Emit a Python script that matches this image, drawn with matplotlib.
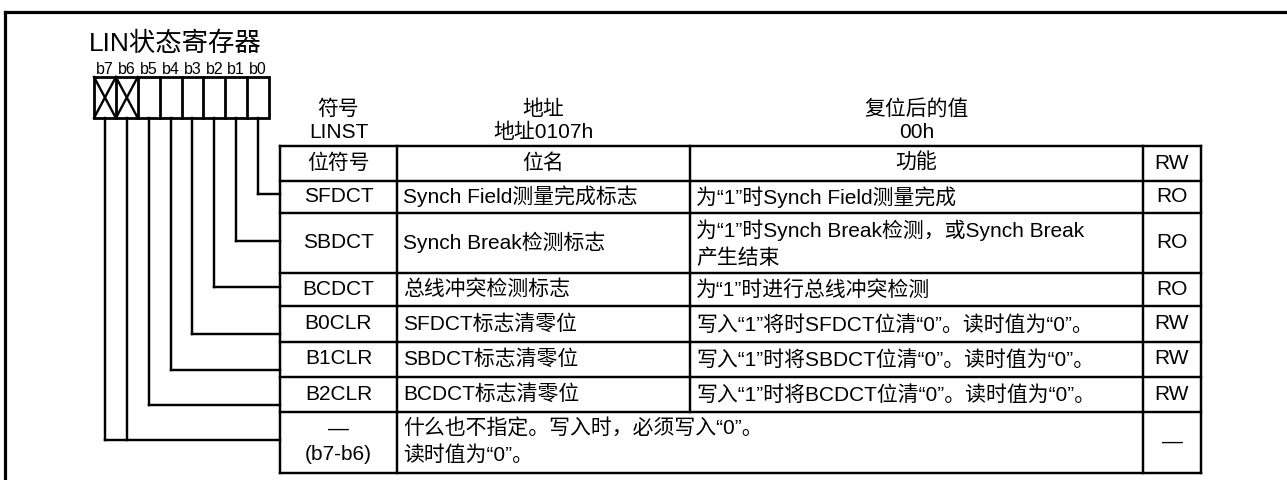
import matplotlib
matplotlib.use("Agg")
import matplotlib.pyplot as plt

plt.rcParams['font.family'] = ['Liberation Sans', 'Noto Sans CJK SC', 'DejaVu Sans']

# ---- content ----
title = "LIN状态寄存器"
bit_labels = ["b7", "b6", "b5", "b4", "b3", "b2", "b1", "b0"]
reserved_bits = ["b7", "b6"]
info_headers = ["符号", "地址", "复位后的值"]
info_values = ["LINST", "地址0107h", "00h"]
col_headers = ["位符号", "位名", "功能", "RW"]
bit_symbols = ["SFDCT", "SBDCT", "BCDCT", "B0CLR", "B1CLR", "B2CLR", "—\n(b7-b6)"]
bit_names = ["Synch Field测量完成标志", "Synch Break检测标志", "总线冲突检测标志",
             "SFDCT标志清零位", "SBDCT标志清零位", "BCDCT标志清零位",
             "什么也不指定。写入时，必须写入“0”。\n读时值为“0”。"]
functions = ["为“1”时Synch Field测量完成",
             "为“1”时Synch Break检测，或Synch Break\n产生结束",
             "为“1”时进行总线冲突检测",
             "写入“1”将时SFDCT位清“0”。读时值为“0”。",
             "写入“1”时将SBDCT位清“0”。读时值为“0”。",
             "写入“1”时将BCDCT位清“0”。读时值为“0”。",
             None]
rw = ["RO", "RO", "RO", "RW", "RW", "RW", "—"]
# which bits feed each row (b0 -> row 0, ...)
row_bits = [["b0"], ["b1"], ["b2"], ["b3"], ["b4"], ["b5"], ["b7", "b6"]]

# ---- layout (pixels) ----
W, H = 1287, 480
reg_x0, reg_x1, reg_y0, reg_y1 = 94, 269, 77, 118
col_x = [280, 397, 690, 1143, 1201]
row_y = [146, 180.5, 212.5, 272.5, 306, 341.5, 376.5, 411.5, 472.5]
conn_y = [194, 241, 287, 334, 370, 405, 440]
FS = 15
LW = 1.75

fig = plt.figure(figsize=(W / 100, H / 100), dpi=100)
ax = fig.add_axes([0, 0, 1, 1])
ax.set_xlim(0, W)
ax.set_ylim(H, 0)
ax.axis("off")

def line(xs, ys, lw=LW):
    ax.plot(xs, ys, color="black", lw=lw, solid_capstyle="projecting", solid_joinstyle="miter")

# outer frame (top and left)
line([5, W], [12, 12], lw=2.3)
line([5, 5], [12, H], lw=2.3)

# title and bit labels
ax.text(89, 44, title, fontsize=19, ha="left", va="center")
cw = (reg_x1 - reg_x0) / len(bit_labels)
centers = {b: reg_x0 + cw * (i + 0.5) for i, b in enumerate(bit_labels)}
for b in bit_labels:
    ax.text(centers[b], 70, b, fontsize=11.5, ha="center", va="center")

# register box
ax.add_patch(plt.Rectangle((reg_x0, reg_y0), reg_x1 - reg_x0, reg_y1 - reg_y0,
                           fill=False, lw=2.0, ec="black"))
for i in range(1, len(bit_labels)):
    x = reg_x0 + cw * i
    line([x, x], [reg_y0, reg_y1], lw=2.0)
for b in reserved_bits:
    xl = centers[b] - cw / 2
    xr = centers[b] + cw / 2
    line([xl, xr], [reg_y0, reg_y1], lw=1.7)
    line([xl, xr], [reg_y1, reg_y0], lw=1.7)

# connectors
for bits, y in zip(row_bits, conn_y):
    for b in bits:
        line([centers[b], centers[b]], [reg_y1, y])
    xmin = min(centers[b] for b in bits)
    line([xmin, col_x[0]], [y, y])

# info header
info_cx = [(col_x[0] + col_x[1]) / 2, (col_x[1] + col_x[2]) / 2, (col_x[2] + col_x[3]) / 2]
for cx, h, v in zip(info_cx, info_headers, info_values):
    ax.text(cx, 109, h, fontsize=FS, ha="center", va="center")
    ax.text(cx, 132, v, fontsize=FS, ha="center", va="center")

# table grid
x0, x1 = col_x[0], col_x[-1]
for y in row_y:
    line([x0, x1], [y, y])
line([col_x[0], col_x[0]], [row_y[0], row_y[-1]])
line([col_x[1], col_x[1]], [row_y[0], row_y[-1]])
line([col_x[2], col_x[2]], [row_y[0], row_y[-2]])
line([col_x[3], col_x[3]], [row_y[0], row_y[-1]])
line([col_x[4], col_x[4]], [row_y[0], row_y[-1]])

# header row
hy = (row_y[0] + row_y[1]) / 2
for i, h in enumerate(col_headers):
    ax.text((col_x[i] + col_x[i + 1]) / 2, hy, h, fontsize=FS, ha="center", va="center")

# body rows
for r in range(len(bit_symbols)):
    cy = (row_y[r + 1] + row_y[r + 2]) / 2
    ax.text((col_x[0] + col_x[1]) / 2, cy, bit_symbols[r], fontsize=FS,
            ha="center", va="center", linespacing=1.45)
    ax.text(col_x[1] + 6, cy, bit_names[r], fontsize=FS, ha="left", va="center",
            linespacing=1.45)
    if functions[r] is not None:
        ax.text(col_x[2] + 6, cy + 1, functions[r], fontsize=FS, ha="left", va="center",
                linespacing=1.45)
    ax.text((col_x[3] + col_x[4]) / 2, cy, rw[r], fontsize=FS, ha="center", va="center")

fig.savefig("out.png", dpi=100)
